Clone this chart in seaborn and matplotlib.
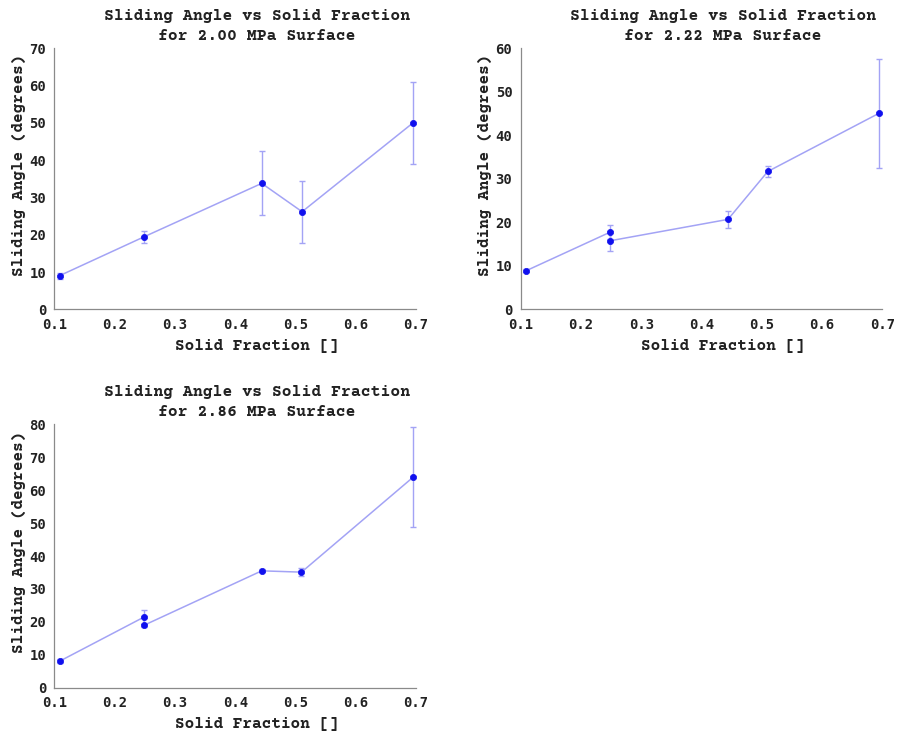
import matplotlib
matplotlib.use("Agg")
import matplotlib.pyplot as plt
import seaborn as sns
import pandas as pd

# ---- data ----
titles = ["Sliding Angle vs Solid Fraction\nfor 2.00 MPa Surface",
          "Sliding Angle vs Solid Fraction\nfor 2.22 MPa Surface",
          "Sliding Angle vs Solid Fraction\nfor 2.86 MPa Surface"]

x_200 = [0.109, 0.249, 0.444, 0.511, 0.695]
y_200 = [9.1, 19.5, 33.8, 26.2, 50.0]
e_200 = [0.8, 1.6, 8.6, 8.3, 11.0]

x_222 = [0.109, 0.249, 0.249, 0.444, 0.510, 0.695]
y_222 = [8.9, 17.8, 15.8, 20.7, 31.7, 45.1]
e_222 = [0.3, 1.5, 2.3, 1.9, 1.3, 12.5]

x_286 = [0.109, 0.249, 0.249, 0.444, 0.510, 0.695]
y_286 = [8.1, 21.5, 19.0, 35.5, 35.1, 63.9]
e_286 = [0.6, 2.2, 0.5, 0.5, 1.3, 15.2]

ylims = [70, 60, 80]
xticks = [0.1, 0.2, 0.3, 0.4, 0.5, 0.6, 0.7]
xlabel = "Solid Fraction []"
ylabel = "Sliding Angle (degrees)"

datasets = [(x_200, y_200, e_200), (x_222, y_222, e_222), (x_286, y_286, e_286)]

# ---- style ----
sns.set_theme(style="white")
plt.rcParams["font.family"] = ["DejaVu Sans Mono", "DejaVu Sans"]

LINE_C = "#a3a3f5"
MARK_C = "#1010ee"
SPINE_C = "#8a8a8a"
TXT_C = "#222222"
mono_title = ["Courier Prime", "FreeMono", "Liberation Mono", "DejaVu Sans Mono"]

fig = plt.figure(figsize=(8.99, 7.36), dpi=100)
rects = [
    [0.0606, 0.5795, 0.4021, 0.3549],
    [0.5792, 0.5795, 0.4022, 0.3549],
    [0.0606, 0.0656, 0.4021, 0.3579],
]

for i, ((xs, ys, es), rect) in enumerate(zip(datasets, rects)):
    ax = fig.add_axes(rect)
    df = pd.DataFrame({"x": xs, "y": ys, "err": es})
    ax.errorbar(df["x"], df["y"], yerr=df["err"], fmt="none",
                ecolor=LINE_C, elinewidth=1.0, capsize=2.2, capthick=1.0, zorder=2)
    sns.lineplot(data=df, x="x", y="y", sort=False, estimator=None,
                 color=LINE_C, linewidth=1.1, ax=ax, zorder=3)
    sns.scatterplot(data=df, x="x", y="y", color=MARK_C, s=20,
                    edgecolor=MARK_C, linewidth=0.5, ax=ax, zorder=4)
    ax.set_xlim(0.1, 0.7)
    ax.set_ylim(0, ylims[i])
    ax.set_xticks(xticks)
    ax.set_xticklabels([f"{t:.1f}" for t in xticks])
    ax.set_yticks(list(range(0, ylims[i] + 1, 10)))
    for s in ["top", "right"]:
        ax.spines[s].set_visible(False)
    for s in ["left", "bottom"]:
        ax.spines[s].set_color(SPINE_C)
        ax.spines[s].set_linewidth(0.9)
    ax.tick_params(direction="in", length=3, width=0.8, color=SPINE_C,
                   labelsize=10, labelcolor=TXT_C, pad=6)
    for lab in ax.get_xticklabels() + ax.get_yticklabels():
        lab.set_fontweight("bold")
    ax.set_title(titles[i], family=mono_title, fontweight="bold", fontsize=11.8,
                 color=TXT_C, x=0.56, pad=6, linespacing=1.5)
    ax.set_xlabel(xlabel, family=mono_title, fontweight="bold", fontsize=11.6, color=TXT_C)
    ax.set_ylabel(ylabel, family=mono_title, fontweight="bold", fontsize=11.6, color=TXT_C)
    ax.xaxis.set_label_coords(0.56, -0.113)
    ax.yaxis.set_label_coords(-0.08, 0.553)
    ax.set_facecolor("white")

fig.savefig("out.png", dpi=100, facecolor="white")
